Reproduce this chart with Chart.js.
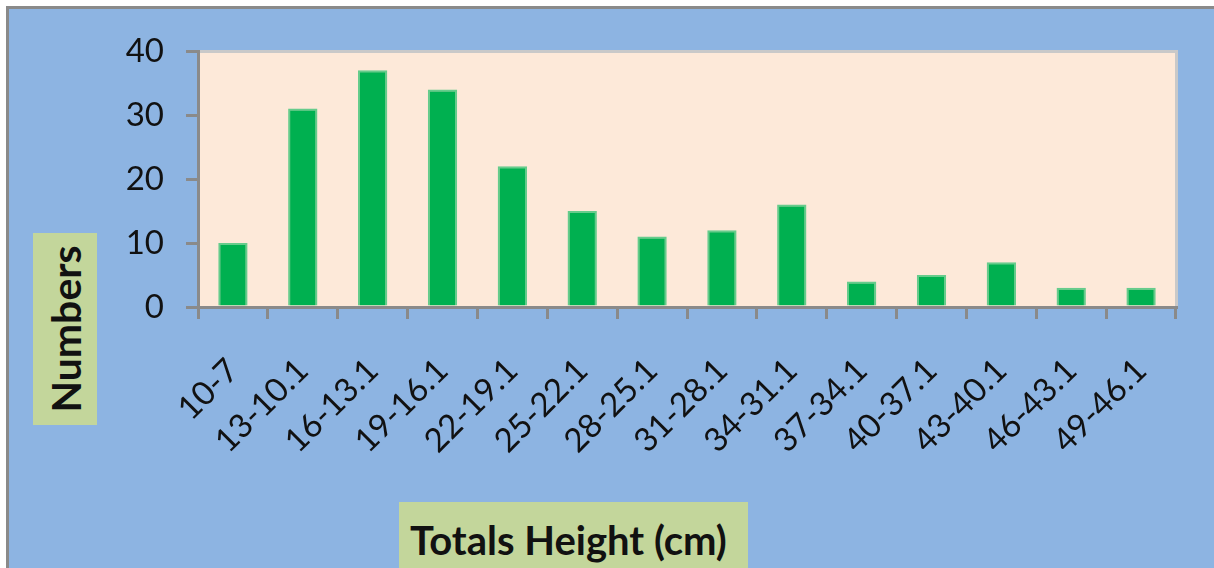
<!DOCTYPE html>
<html>
<head>
<meta charset="utf-8">
<script src="https://cdn.jsdelivr.net/npm/chart.js@4/dist/chart.umd.min.js"></script>
<style>
  html, body { margin: 0; padding: 0; background: #ffffff; }
  body { width: 1214px; height: 568px; position: relative; overflow: hidden; }
  #frame { position: absolute; left: 6px; top: 6px; width: 1230px; height: 580px;
           background: #8DB4E2; border-top: 3px solid #8a8a8a; border-left: 3px solid #8a8a8a; box-sizing: border-box; }
  #c { position: absolute; left: 0; top: 0; }
  .lbl { position: absolute; background: #C3D69B; font-family: Lato, "Open Sans", sans-serif; font-weight: 700; color: #111; }
  #ytitle { left: 33px; top: 233px; width: 64px; height: 192px; }
  #ytitle span { position: absolute; left: 50%; top: 50%; transform: translate(-50%, -50%) rotate(-90deg); font-size: 41px; white-space: nowrap; }
  #xtitle { left: 399px; top: 502px; width: 349px; height: 80px; }
  #xtitle span { position: absolute; left: 11px; top: 14px; font-size: 40px; white-space: nowrap; }
</style>
</head>
<body>
<div id="frame"></div>
<canvas id="c" width="1214" height="568"></canvas>
<div class="lbl" id="ytitle"><span>Numbers</span></div>
<div class="lbl" id="xtitle"><span>Totals Height (cm)</span></div>
<script>
const categories = ["10-7","13-10.1","16-13.1","19-16.1","22-19.1","25-22.1","28-25.1","31-28.1","34-31.1","37-34.1","40-37.1","43-40.1","46-43.1","49-46.1"];
const numbers = [10, 31, 37, 34, 22, 15, 11, 12, 16, 4, 5, 7, 3, 3];
const yTicks = [0, 10, 20, 30, 40];

const plotBg = {
  id: 'plotBg',
  beforeDraw(chart) {
    const {ctx, chartArea: a} = chart;
    ctx.save();
    ctx.fillStyle = '#FDE9D9';
    ctx.fillRect(a.left, a.top, a.right - a.left, a.bottom - a.top);
    ctx.strokeStyle = '#c9c9c9';
    ctx.lineWidth = 3;
    ctx.beginPath();
    ctx.moveTo(a.left, a.top + 0.5);
    ctx.lineTo(a.right + 0.5, a.top + 0.5);
    ctx.lineTo(a.right + 0.5, a.bottom);
    ctx.stroke();
    ctx.restore();
  }
};

new Chart(document.getElementById('c'), {
  type: 'bar',
  data: {
    labels: categories,
    datasets: [{
      data: numbers,
      backgroundColor: '#00B050',
      borderColor: '#66CC8C',
      borderWidth: {top: 2, left: 2, right: 2, bottom: 0},
      barPercentage: 0.42,
      categoryPercentage: 1.0
    }]
  },
  options: {
    responsive: false,
    devicePixelRatio: 1,
    animation: false,
    layout: { padding: { top: 51, right: 38, left: 0, bottom: 0 } },
    plugins: { legend: { display: false }, tooltip: { enabled: false } },
    scales: {
      x: {
        offset: true,
        grid: { offset: true, drawOnChartArea: false, drawTicks: true, tickLength: 12, color: '#8a8a8a', lineWidth: 3 },
        border: { display: true, color: '#8a8a8a', width: 3 },
        ticks: { minRotation: 45, maxRotation: 45, autoSkip: false, padding: 32,
                 color: '#111', font: { family: 'Lato, "Open Sans", sans-serif', size: 33 } },
        afterFit(scale) { scale.height = 261; }
      },
      y: {
        min: 0, max: 40,
        afterBuildTicks(scale) { scale.ticks = yTicks.map(v => ({ value: v })); },
        grid: { drawOnChartArea: false, drawTicks: true, tickLength: 12, color: '#8a8a8a', lineWidth: 3 },
        border: { display: true, color: '#8a8a8a', width: 3 },
        ticks: { padding: 22, color: '#111', font: { family: 'Lato, "Open Sans", sans-serif', size: 33 } },
        afterFit(scale) { scale.width = 198; }
      }
    }
  },
  plugins: [plotBg]
});
</script>
</body>
</html>
